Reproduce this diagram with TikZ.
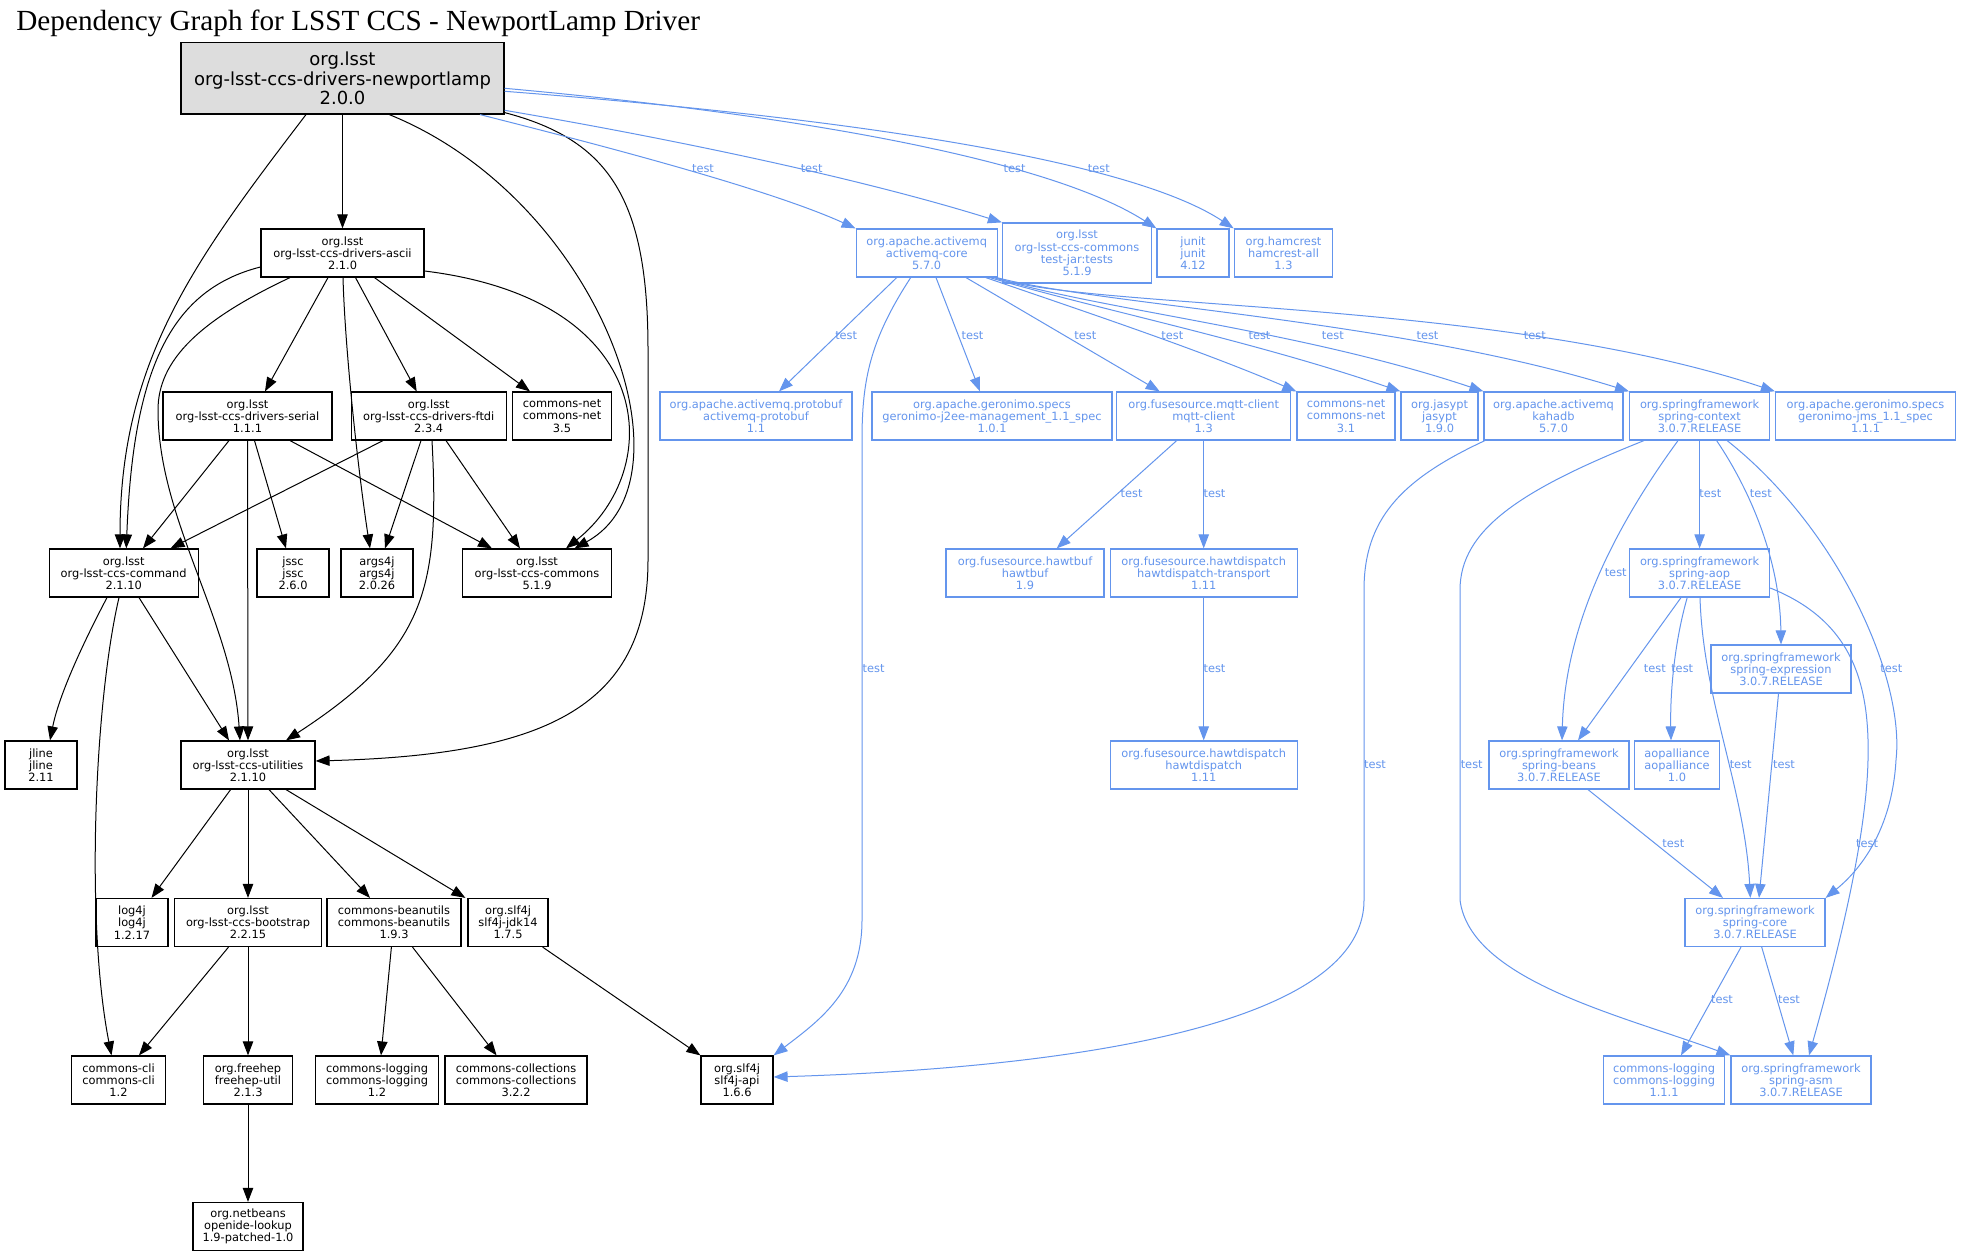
\documentclass[tikz,border=0pt]{standalone}
\usepackage{fontspec}
\newfontfamily\dvs{DejaVu Sans}
\newfontfamily\ttl{Liberation Serif}
\usetikzlibrary{arrows.meta,calc}
\definecolor{tblue}{RGB}{100,149,237}
\definecolor{mfill}{RGB}{221,221,221}
\tikzset{
  dep/.style={draw=black, line width=0.6pt, rectangle, inner sep=0pt, align=center,
    font=\dvs\fontsize{5.7}{6.1}\selectfont, minimum height=24pt},
  tdep/.style={dep, draw=tblue, text=tblue},
  edge/.style={draw=black, line width=0.5pt, -{Triangle[length=7pt,width=5.2pt]}},
  tedge/.style={edge, draw=tblue},
  lbl/.style={text=tblue, font=\dvs\fontsize{5.7}{6.1}\selectfont, inner sep=0pt}
}
\begin{document}
\begin{tikzpicture}[x=0.5pt,y=-0.5pt]
\fill[white] (0,0) rectangle (1969,1256);
\useasboundingbox (0,0) rectangle (1969,1256);
\node[anchor=base west, font=\ttl\fontsize{14.6}{16}\selectfont, inner sep=0pt] (title) at (16,30.7) {Dependency Graph for LSST CCS - NewportLamp Driver};
% black nodes
\node[dep, fill=mfill, minimum width=161.5pt, minimum height=35.7pt, font=\dvs\fontsize{9}{9.75}\selectfont] (main) at (342.5,78.3) {org.lsst\\org-lsst-ccs-drivers-newportlamp\\2.0.0};
\node[dep, minimum width=81.5pt] (ascii) at (342.5,253) {org.lsst\\org-lsst-ccs-drivers-ascii\\2.1.0};
\node[dep, minimum width=84.5pt] (serial) at (247.5,416) {org.lsst\\org-lsst-ccs-drivers-serial\\1.1.1};
\node[dep, minimum width=77.5pt] (ftdi) at (428.7,416) {org.lsst\\org-lsst-ccs-drivers-ftdi\\2.3.4};
\node[dep, minimum width=49.5pt] (cnet35) at (562,416) {commons-net\\commons-net\\3.5};
\node[dep, minimum width=74.5pt] (command) at (123.7,573) {org.lsst\\org-lsst-ccs-command\\2.1.10};
\node[dep, minimum width=36pt] (jssc) at (293,573) {jssc\\jssc\\2.6.0};
\node[dep, minimum width=36pt] (args4j) at (377,573) {args4j\\args4j\\2.0.26};
\node[dep, minimum width=74.5pt] (commons) at (537,573) {org.lsst\\org-lsst-ccs-commons\\5.1.9};
\node[dep, minimum width=36pt] (jline) at (41,765) {jline\\jline\\2.11};
\node[dep, minimum width=67pt] (utilities) at (248,765) {org.lsst\\org-lsst-ccs-utilities\\2.1.10};
\node[dep, minimum width=36pt] (log4j) at (132,922.5) {log4j\\log4j\\1.2.17};
\node[dep, minimum width=73.5pt] (bootstrap) at (248,922.5) {org.lsst\\org-lsst-ccs-bootstrap\\2.2.15};
\node[dep, minimum width=67pt] (beanutils) at (394,922.5) {commons-beanutils\\commons-beanutils\\1.9.3};
\node[dep, minimum width=40pt] (jdk14) at (508,922.5) {org.slf4j\\slf4j-jdk14\\1.7.5};
\node[dep, minimum width=47pt] (cli) at (118.5,1080) {commons-cli\\commons-cli\\1.2};
\node[dep, minimum width=44.5pt] (freehep) at (248,1080) {org.freehep\\freehep-util\\2.1.3};
\node[dep, minimum width=61.25pt] (clog12) at (377,1080) {commons-logging\\commons-logging\\1.2};
\node[dep, minimum width=71pt] (ccoll) at (516,1080) {commons-collections\\commons-collections\\3.2.2};
\node[dep, minimum width=55pt] (netbeans) at (248,1226.5) {org.netbeans\\openide-lookup\\1.9-patched-1.0};
\node[dep, minimum width=36pt] (slfapi) at (737,1080) {org.slf4j\\slf4j-api\\1.6.6};
% blue nodes
\node[tdep, minimum width=70.5pt] (amqcore) at (926.7,253) {org.apache.activemq\\activemq-core\\5.7.0};
\node[tdep, minimum width=74.5pt, minimum height=30pt] (testjar) at (1077,253) {org.lsst\\org-lsst-ccs-commons\\test-jar:tests\\5.1.9};
\node[tdep, minimum width=36pt] (junit) at (1193,253) {junit\\junit\\4.12};
\node[tdep, minimum width=49.25pt] (hamcrest) at (1283.5,253) {org.hamcrest\\hamcrest-all\\1.3};
\node[tdep, minimum width=96pt] (protobuf) at (756,416) {org.apache.activemq.protobuf\\activemq-protobuf\\1.1};
\node[tdep, minimum width=120pt] (j2ee) at (992,416) {org.apache.geronimo.specs\\geronimo-j2ee-management\_1.1\_spec\\1.0.1};
\node[tdep, minimum width=87pt] (mqtt) at (1203.7,416) {org.fusesource.mqtt-client\\mqtt-client\\1.3};
\node[tdep, minimum width=49pt] (cnet31) at (1346,416) {commons-net\\commons-net\\3.1};
\node[tdep, minimum width=38.5pt] (jasypt) at (1439.5,416) {org.jasypt\\jasypt\\1.9.0};
\node[tdep, minimum width=69.5pt] (kahadb) at (1553.5,416) {org.apache.activemq\\kahadb\\5.7.0};
\node[tdep, minimum width=70pt] (sctx) at (1699.6,416) {org.springframework\\spring-context\\3.0.7.RELEASE};
\node[tdep, minimum width=90pt] (jms) at (1865.5,416) {org.apache.geronimo.specs\\geronimo-jms\_1.1\_spec\\1.1.1};
\node[tdep, minimum width=79pt] (hawtbuf) at (1025,573) {org.fusesource.hawtbuf\\hawtbuf\\1.9};
\node[tdep, minimum width=93.5pt] (hdt) at (1203.7,573) {org.fusesource.hawtdispatch\\hawtdispatch-transport\\1.11};
\node[tdep, minimum width=93.5pt] (hd) at (1203.7,765) {org.fusesource.hawtdispatch\\hawtdispatch\\1.11};
\node[tdep, minimum width=70pt] (saop) at (1699.6,573) {org.springframework\\spring-aop\\3.0.7.RELEASE};
\node[tdep, minimum width=70pt] (sexpr) at (1781,669) {org.springframework\\spring-expression\\3.0.7.RELEASE};
\node[tdep, minimum width=70pt] (sbeans) at (1559,765) {org.springframework\\spring-beans\\3.0.7.RELEASE};
\node[tdep, minimum width=42.5pt] (aopall) at (1677,765) {aopalliance\\aopalliance\\1.0};
\node[tdep, minimum width=70pt] (score) at (1755,922.5) {org.springframework\\spring-core\\3.0.7.RELEASE};
\node[tdep, minimum width=60.5pt] (clog111) at (1664,1080) {commons-logging\\commons-logging\\1.1.1};
\node[tdep, minimum width=70pt] (sasm) at (1801,1080) {org.springframework\\spring-asm\\3.0.7.RELEASE};
% black edges
\draw[edge] (main.south) -- (ascii.north);
\draw[edge] ($(main.south)+(-36.5,0)$) .. controls (195,260) and (120,360) .. ($(command.north)+(-3.7,0)$);
\draw[edge] ($(main.south)+(46.8,0)$) .. controls (600,200) and (700,480) .. ($(commons.north)+(37.5,0)$);
\draw[edge] ($(main.south east)+(0,-2)$) .. controls (610,140) and (648,200) .. (648,350) -- (648,560) .. controls (648,710) and (540,755) .. ($(utilities.east)+(0,-4)$);
\draw[edge] ($(ascii.west)+(0,14)$) .. controls (170,290) and (133,370) .. ($(command.north)+(2.6,0)$);
\draw[edge] ($(ascii.east)+(0,18)$) .. controls (660,300) and (665,470) .. ($(commons.north)+(29,0)$);
\draw[edge] ($(ascii.south)+(-14.5,0)$) -- ($(serial.north)+(17.5,0)$);
\draw[edge] ($(ascii.south)+(13,0)$) -- ($(ftdi.north)+(-12,0)$);
\draw[edge] ($(ascii.south)+(32,0)$) -- ($(cnet35.north)+(-32,0)$);
\draw[edge] ($(ascii.south)+(0.5,0)$) .. controls (345,350) and (358,470) .. ($(args4j.north)+(-7,0)$);
\draw[edge] ($(ascii.south)+(-52.5,0)$) .. controls (200,320) and (158,360) .. (158,410) .. controls (158,520) and (232,620) .. ($(utilities.north)+(-8,0)$);
\draw[edge] ($(serial.south)+(-18.5,0)$) -- ($(command.north)+(19.3,0)$);
\draw[edge] (serial.south) -- (utilities.north);
\draw[edge] ($(serial.south)+(7,0)$) -- ($(jssc.north)+(-7,0)$);
\draw[edge] ($(serial.south)+(42.5,0)$) -- ($(commons.north)+(-45,0)$);
\draw[edge] ($(ftdi.south)+(-45.7,0)$) -- ($(command.north)+(46.8,0)$);
\draw[edge] ($(ftdi.south)+(-7.7,0)$) -- ($(args4j.north)+(8,0)$);
\draw[edge] ($(ftdi.south)+(3.3,0)$) .. controls (440,590) and (425,650) .. ($(utilities.north)+(38,0)$);
\draw[edge] ($(ftdi.south)+(17.3,0)$) -- ($(commons.north)+(-17,0)$);
\draw[edge] ($(command.south)+(-16.7,0)$) .. controls (90,630) and (60,690) .. ($(jline.north)+(9,0)$);
\draw[edge] ($(command.south)+(-4.7,0)$) .. controls (95,700) and (85,920) .. ($(cli.north)+(-7,0)$);
\draw[edge] ($(command.south)+(15.3,0)$) -- ($(utilities.north)+(-19,0)$);
\draw[edge] ($(utilities.south)+(-17.4,0)$) -- ($(log4j.north)+(19.5,0)$);
\draw[edge] (utilities.south) -- (bootstrap.north);
\draw[edge] ($(utilities.south)+(21,0)$) -- ($(beanutils.north)+(-24,0)$);
\draw[edge] ($(utilities.south)+(38,0)$) -- ($(jdk14.north west)+(-2,0)$);
\draw[edge] ($(bootstrap.south)+(-19.5,0)$) -- ($(cli.north)+(20.5,0)$);
\draw[edge] (bootstrap.south) -- (freehep.north);
\draw[edge] (freehep.south) -- (netbeans.north);
\draw[edge] ($(beanutils.south)+(-2.6,0)$) -- ($(clog12.north)+(4,0)$);
\draw[edge] ($(beanutils.south)+(18.5,0)$) -- ($(ccoll.north)+(-19.4,0)$);
\draw[edge] ($(jdk14.south east)+(-6,0)$) -- (slfapi.north west);
% blue edges
\draw[tedge] ($(main.south)+(137.5,0)$) .. controls (560,135) and (760,185) .. (amqcore.north west);
\draw[tedge] ($(main.east)+(0,32)$) .. controls (650,135) and (850,175) .. (testjar.north west);
\draw[tedge] ($(main.east)+(0,10)$) .. controls (800,115) and (1050,160) .. (junit.north west);
\draw[tedge] ($(main.east)+(0,13)$) .. controls (850,118) and (1130,160) .. (hamcrest.north west);
\draw[tedge] ($(amqcore.south)+(-30,0)$) -- ($(protobuf.north)+(23,0)$);
\draw[tedge] ($(amqcore.south)+(-16,0)$) .. controls (870,340) and (862,380) .. (862,440) -- (862,920) .. controls (862,990) and (820,1020) .. (slfapi.north east);
\draw[tedge] ($(amqcore.south)+(9.3,0)$) -- ($(j2ee.north)+(-12,0)$);
\draw[tedge] ($(amqcore.south)+(39.3,0)$) -- ($(mqtt.north)+(-44,0)$);
\draw[tedge] ($(amqcore.south east)+(-12,0)$) .. controls (1080,310) and (1200,350) .. (cnet31.north west);
\draw[tedge] ($(amqcore.south east)+(-8,0)$) .. controls (1100,310) and (1250,340) .. (jasypt.north west);
\draw[tedge] ($(amqcore.south east)+(-4,0)$) .. controls (1100,310) and (1300,330) .. (kahadb.north west);
\draw[tedge] ($(amqcore.south east)+(-1,0)$) .. controls (1100,305) and (1400,320) .. (sctx.north west);
\draw[tedge] ($(amqcore.south east)+(0,1)$) .. controls (1100,310) and (1500,300) .. (jms.north west);
\draw[tedge] ($(mqtt.south)+(-27,0)$) -- ($(hawtbuf.north)+(31.7,0)$);
\draw[tedge] (mqtt.south) -- (hdt.north);
\draw[tedge] (hdt.south) -- (hd.north);
\draw[tedge] ($(kahadb.south west)+(1.5,0)$) .. controls (1400,480) and (1364,520) .. (1364,590) -- (1364,900) .. controls (1364,1040) and (1000,1070) .. ($(slfapi.east)+(0,-3)$);
\draw[tedge] ($(sctx.south west)+(15,0)$) .. controls (1520,490) and (1460,530) .. (1460,590) -- (1460,900) .. controls (1470,980) and (1620,1015) .. (sasm.north west);
\draw[tedge] ($(sctx.south)+(-21.6,0)$) .. controls (1620,520) and (1565,620) .. ($(sbeans.north)+(3,0)$);
\draw[tedge] (sctx.south) -- (saop.north);
\draw[tedge] ($(sctx.south)+(17,0)$) .. controls (1750,490) and (1780,560) .. (sexpr.north);
\draw[tedge] ($(sctx.south)+(27.5,0)$) .. controls (1840,530) and (1905,680) .. (1896,760) .. controls (1892,830) and (1860,870) .. (score.north east);
\draw[tedge] ($(saop.south)+(-18.6,0)$) -- ($(sbeans.north)+(19,0)$);
\draw[tedge] ($(saop.south)+(-12.4,0)$) .. controls (1675,640) and (1670,690) .. ($(aopall.north)+(-6,0)$);
\draw[tedge] ($(saop.south)+(0.4,0)$) .. controls (1703,700) and (1745,790) .. ($(score.north)+(-4.7,0)$);
\draw[tedge] ($(saop.east)+(0,15)$) .. controls (1850,620) and (1870,680) .. (1868,760) .. controls (1866,850) and (1830,980) .. ($(sasm.north)+(8,0)$);
\draw[tedge] ($(sexpr.south)+(-2.5,0)$) -- ($(score.north)+(4,0)$);
\draw[tedge] ($(sbeans.south)+(29,0)$) -- ($(score.north)+(-32,0)$);
\draw[tedge] ($(score.south)+(-14,0)$) -- ($(clog111.north)+(17,0)$);
\draw[tedge] ($(score.south)+(6.7,0)$) -- ($(sasm.north)+(-7.7,0)$);
% edge labels
\node[lbl] (l1) at (703,168.5) {test};
\node[lbl] (l2) at (811.7,168.3) {test};
\node[lbl] (l3) at (1014.6,168.3) {test};
\node[lbl] (l4) at (1098.8,168.3) {test};
\node[lbl] (l5) at (846.2,336) {test};
\node[lbl] (l6) at (972.5,336) {test};
\node[lbl] (l7) at (1085.3,336) {test};
\node[lbl] (l8) at (1172.4,336) {test};
\node[lbl] (l9) at (1259.5,336) {test};
\node[lbl] (l10) at (1332.8,336) {test};
\node[lbl] (l11) at (1427.5,336) {test};
\node[lbl] (l12) at (1534.8,336) {test};
\node[lbl] (l13) at (873.6,668.3) {test};
\node[lbl] (l14) at (1131.6,493.3) {test};
\node[lbl] (l15) at (1214.5,493.3) {test};
\node[lbl] (l16) at (1214.5,668.3) {test};
\node[lbl] (l17) at (1375,764.3) {test};
\node[lbl] (l18) at (1471.7,764.3) {test};
\node[lbl] (l19) at (1615.7,572.3) {test};
\node[lbl] (l20) at (1710.3,493.3) {test};
\node[lbl] (l21) at (1760.9,493.3) {test};
\node[lbl] (l22) at (1891.3,668.3) {test};
\node[lbl] (l23) at (1654.8,668.3) {test};
\node[lbl] (l24) at (1682.2,668.3) {test};
\node[lbl] (l25) at (1740.7,764.3) {test};
\node[lbl] (l26) at (1784,764.3) {test};
\node[lbl] (l27) at (1867,843.3) {test};
\node[lbl] (l28) at (1673.3,843.3) {test};
\node[lbl] (l29) at (1722,1000) {test};
\node[lbl] (l30) at (1789,1000) {test};
\end{tikzpicture}
\end{document}
